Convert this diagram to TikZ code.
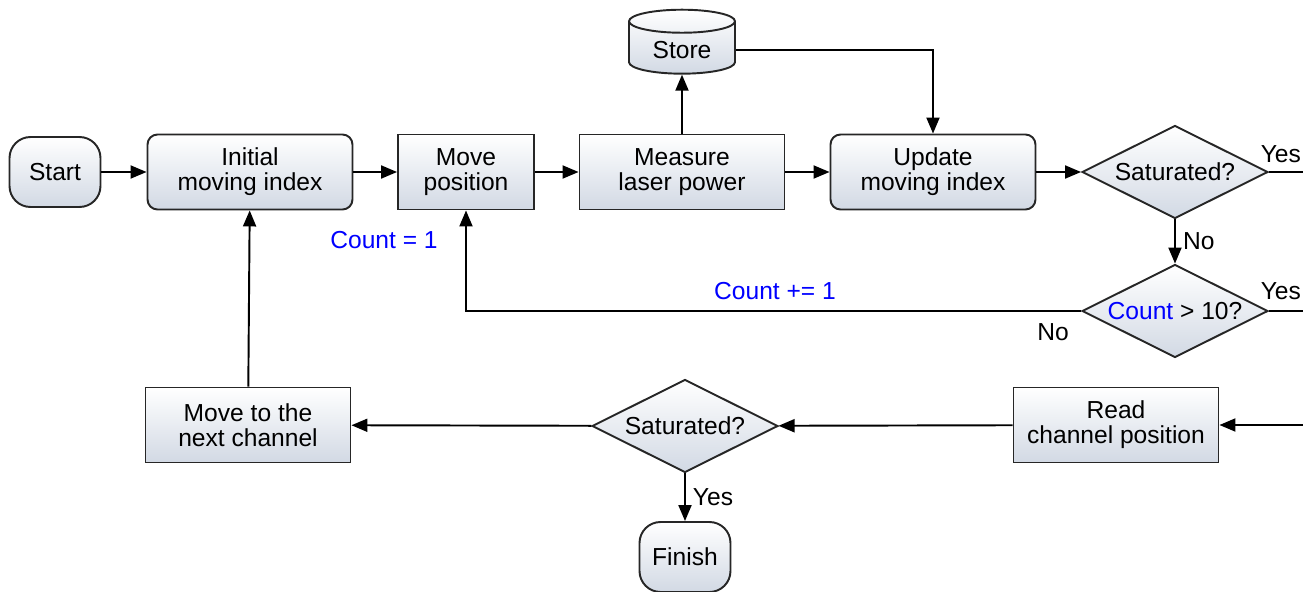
\documentclass[tikz,border=0pt]{standalone}
\usepackage{fontspec}
\setmainfont{Liberation Sans}
\usepackage{tikz}
\usetikzlibrary{arrows.meta, positioning, shapes.geometric}
\definecolor{boxbot}{RGB}{210,217,228}
\definecolor{cntblue}{RGB}{0,0,255}

\begin{document}
\begin{tikzpicture}[
  x=0.02cm, y=-0.02cm,
  font=\fontsize{14}{14.2}\selectfont,
  base/.style  = {draw=black!85, line width=1.1pt, align=center, inner sep=2pt,
                  top color=white, bottom color=boxbot},
  proc/.style  = {base, rectangle, minimum width=4.1cm, minimum height=1.5cm},
  rproc/.style = {proc, rounded corners=0.2cm},
  term/.style  = {base, rectangle, rounded corners=0.42cm,
                  minimum width=1.82cm, minimum height=1.4cm, inner xsep=0pt},
  dec/.style   = {base, diamond, aspect=2, minimum width=3.72cm, minimum height=1.86cm,
                  inner sep=0pt},
  db/.style    = {base, cylinder, shape border rotate=90, aspect=0.35,
                  minimum width=2.12cm, minimum height=1.28cm},
  ln/.style    = {draw, line width=1.1pt},
  ar/.style    = {ln, -{Triangle[length=3.2mm, width=2.6mm]}},
  lbl/.style   = {inner sep=1pt},
  cnt/.style   = {lbl, text=cntblue},
]
\useasboundingbox (0,0) rectangle (1303,592);

% ---------- top row ----------
\node[term]  (start)  at (55,172)   {Start};
\node[rproc] (init)   at (250,172)  {Initial\\moving index};
\node[proc, minimum width=2.72cm] (move) at (466,172) {Move\\position};
\node[proc]  (meas)   at (682,172)  {Measure\\laser power};
\node[rproc] (upd)    at (933,172)  {Update\\moving index};
\node[dec]   (sat)    at (1175,172) {Saturated?};
\node[db]    (store)  at (682,50)   {Store};

% ---------- count check ----------
\node[dec]   (chk)    at (1175,311) {\textcolor{cntblue}{Count} > 10?};

% ---------- bottom row ----------
\node[proc]  (read)   at (1116,425) {Read\\channel position};
\node[dec]   (sat2)   at (685,426)  {Saturated?};
\node[proc]  (next)   at (248,425)  {Move to the\\next channel};
\node[term]  (fin)    at (685,557)  {Finish};

% loose ends at the right border
\coordinate (eA) at (1303,172);
\coordinate (eB) at (1303,311);
\coordinate (eC) at (1303,425);

% connectors
\draw[ar] (start) -- (init);
\draw[ar] (init) -- (move);
\draw[ar] (move) -- (meas);
\draw[ar] (meas) -- (upd);
\draw[ar] (upd) -- (sat);
\draw[ar] (meas) -- (store);
\draw[ar] (store.east) -| (upd.north);

\draw[ln] (sat.east) -- (eA);
\node[lbl, anchor=south east] (yA) at (1303,165) {Yes};
\draw[ar] (sat.south) -- node[lbl, right=3pt] (nA) {No} (chk.north);

\draw[ln] (chk.east) -- (eB);
\node[lbl, anchor=south east] (yB) at (1303,302) {Yes};
\draw[ar] (chk.west) -| (move.south);
\node[lbl] (nB) at (1053,332) {No};
\node[cnt] (inc) at (775,291) {Count += 1};
\node[cnt] (one) at (384,240) {Count = 1};

\draw[ar] (eC) -- (read);
\draw[ar] (read) -- (sat2);
\draw[ar] (sat2) -- (next);
\draw[ar] (sat2) -- node[lbl, right=3pt] (yC) {Yes} (fin);
\draw[ar] (next) -- (init);

\end{tikzpicture}
\end{document}
